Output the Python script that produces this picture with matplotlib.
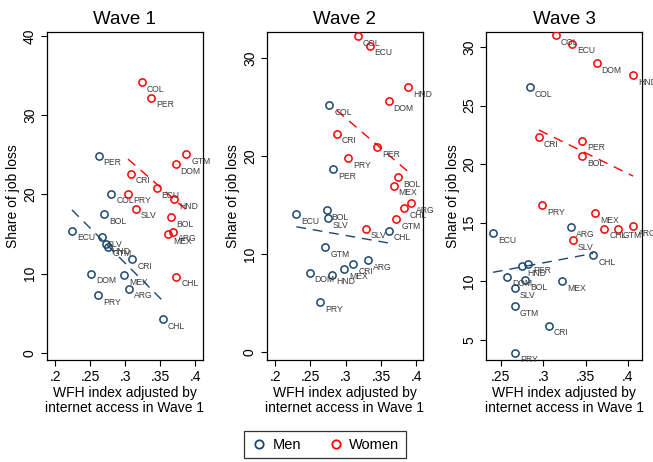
import matplotlib
matplotlib.use("Agg")
import matplotlib.pyplot as plt
from matplotlib.lines import Line2D
import numpy as np

plt.rcParams['font.family'] = ['Liberation Sans', 'DejaVu Sans']

waves = ["Wave 1", "Wave 2", "Wave 3"]

# ---- Wave 1 ----
w1_men_cty = ["PER", "COL", "BOL", "ECU", "SLV", "HND", "GTM", "CRI", "DOM", "MEX", "ARG", "PRY", "CHL"]
w1_men_x = [0.262, 0.280, 0.270, 0.224, 0.267, 0.273, 0.275, 0.310, 0.251, 0.299, 0.305, 0.261, 0.354]
w1_men_y = [24.9, 20.1, 17.5, 15.4, 14.6, 13.7, 13.4, 11.8, 10.0, 9.8, 8.1, 7.3, 4.2]
w1_wom_cty = ["COL", "PER", "GTM", "DOM", "CRI", "ECU", "HND", "PRY", "SLV", "BOL", "ARG", "MEX", "CHL"]
w1_wom_x = [0.324, 0.337, 0.387, 0.372, 0.308, 0.345, 0.370, 0.304, 0.315, 0.365, 0.368, 0.361, 0.373]
w1_wom_y = [34.2, 32.2, 25.1, 23.8, 22.6, 20.8, 19.4, 20.1, 18.2, 17.1, 15.3, 15.0, 9.6]

# ---- Wave 2 ----
w2_men_cty = ["COL", "PER", "ECU", "BOL", "SLV", "CHL", "GTM", "ARG", "CRI", "MEX", "DOM", "HND", "PRY"]
w2_men_x = [0.277, 0.282, 0.230, 0.273, 0.275, 0.361, 0.271, 0.332, 0.311, 0.298, 0.249, 0.280, 0.264]
w2_men_y = [25.2, 18.7, 14.1, 14.5, 13.7, 12.4, 10.7, 9.4, 9.0, 8.5, 8.1, 7.9, 5.1]
w2_wom_cty = ["COL", "ECU", "HND", "DOM", "CRI", "PER", "PRY", "BOL", "MEX", "ARG", "CHL", "GTM", "SLV"]
w2_wom_x = [0.317, 0.334, 0.389, 0.361, 0.287, 0.345, 0.303, 0.374, 0.368, 0.392, 0.383, 0.372, 0.329]
w2_wom_y = [32.3, 31.3, 27.1, 25.6, 22.3, 20.9, 19.8, 17.9, 17.0, 15.2, 14.7, 13.6, 12.6]

# ---- Wave 3 ----
w3_men_cty = ["COL", "ARG", "ECU", "CHL", "PER", "HND", "DOM", "BOL", "MEX", "SLV", "GTM", "CRI", "PRY"]
w3_men_x = [0.284, 0.333, 0.241, 0.359, 0.282, 0.275, 0.258, 0.279, 0.322, 0.267, 0.267, 0.307, 0.267]
w3_men_y = [26.6, 14.6, 14.1, 12.2, 11.5, 11.3, 10.4, 10.1, 10.0, 9.4, 7.9, 6.2, 3.9]
w3_wom_cty = ["COL", "ECU", "DOM", "HND", "CRI", "PER", "BOL", "PRY", "MEX", "SLV", "CHL", "GTM", "ARG"]
w3_wom_x = [0.315, 0.334, 0.363, 0.406, 0.295, 0.346, 0.346, 0.299, 0.361, 0.335, 0.372, 0.388, 0.406]
w3_wom_y = [31.0, 30.3, 28.6, 27.6, 22.3, 22.0, 20.7, 16.5, 15.8, 13.5, 14.5, 14.5, 14.7]

men_data = [(w1_men_cty, w1_men_x, w1_men_y), (w2_men_cty, w2_men_x, w2_men_y), (w3_men_cty, w3_men_x, w3_men_y)]
wom_data = [(w1_wom_cty, w1_wom_x, w1_wom_y), (w2_wom_cty, w2_wom_x, w2_wom_y), (w3_wom_cty, w3_wom_x, w3_wom_y)]

x_ticks = [[0.2, 0.25, 0.3, 0.35, 0.4], [0.2, 0.25, 0.3, 0.35, 0.4], [0.25, 0.3, 0.35, 0.4]]
y_ticks = [[0, 10, 20, 30, 40], [0, 10, 20, 30], [5, 10, 15, 20, 25, 30]]
x_lims = [(0.188, 0.411), (0.188, 0.4096), (0.2327, 0.4169)]
y_lims = [(-0.92, 40.5), (-0.82, 32.7), (3.27, 31.29)]

MEN_C = "#1a476f"
WOM_C = "red"
LAB_C = "#3c3c3c"

W, H = 653, 462
fig = plt.figure(figsize=(W / 100, H / 100), dpi=100)
lefts = [46.7, 266.7, 486.0]
ax_w = 156.3
ax_bottom = 360.0
ax_top = 32.0

for i in range(3):
    ax = fig.add_axes([lefts[i] / W, (H - ax_bottom) / H, ax_w / W, (ax_bottom - ax_top) / H])
    for (cty, xs, ys), col in ((men_data[i], MEN_C), (wom_data[i], WOM_C)):
        xs = np.array(xs); ys = np.array(ys)
        ax.plot(xs, ys, linestyle='none', marker='o', markersize=5.2,
                markerfacecolor='none', markeredgecolor=col, markeredgewidth=1.1, zorder=3)
        for c, xv, yv in zip(cty, xs, ys):
            ax.annotate(c, (xv, yv), xytext=(3.6, -5.2), textcoords='offset points',
                        fontsize=6.2, color=LAB_C, ha='left', va='center',
                        annotation_clip=False, zorder=4)
        b, a = np.polyfit(xs, ys, 1)
        xl = np.array([xs.min(), xs.max()])
        ax.plot(xl, a + b * xl, color=col, linewidth=1.0, dashes=(7, 5), zorder=2)
    ax.set_xlim(*x_lims[i])
    ax.set_ylim(*y_lims[i])
    ax.set_xticks(x_ticks[i])
    ax.set_xticklabels([("%g" % v).lstrip("0") for v in x_ticks[i]])
    ax.set_yticks(y_ticks[i])
    ax.set_yticklabels([str(v) for v in y_ticks[i]], rotation=90, va='center')
    ax.tick_params(axis='both', labelsize=10, length=4, width=0.8, direction='out', pad=3)
    for s in ax.spines.values():
        s.set_linewidth(0.9)
    ax.set_title(waves[i], fontsize=13.5, pad=6)
    ax.set_ylabel("Share of job loss", fontsize=10, labelpad=2)
    ax.set_xlabel("WFH index adjusted by\ninternet access in Wave 1", fontsize=10, labelpad=2,
                  linespacing=1.0)

handles = [Line2D([], [], linestyle='none', marker='o', markersize=6, markerfacecolor='none',
                  markeredgecolor=MEN_C, markeredgewidth=1.3, label='Men'),
           Line2D([], [], linestyle='none', marker='o', markersize=6, markerfacecolor='none',
                  markeredgecolor=WOM_C, markeredgewidth=1.3, label='Women')]
leg = fig.legend(handles=handles, loc='center', bbox_to_anchor=(325 / W, 1 - 444.7 / H), ncol=2,
                 frameon=True, fancybox=False, edgecolor='black', fontsize=10.5,
                 handletextpad=0.3, columnspacing=1.8, borderpad=0.45, handlelength=1.2)
leg.get_frame().set_linewidth(0.9)

fig.savefig("out.png", dpi=100)
